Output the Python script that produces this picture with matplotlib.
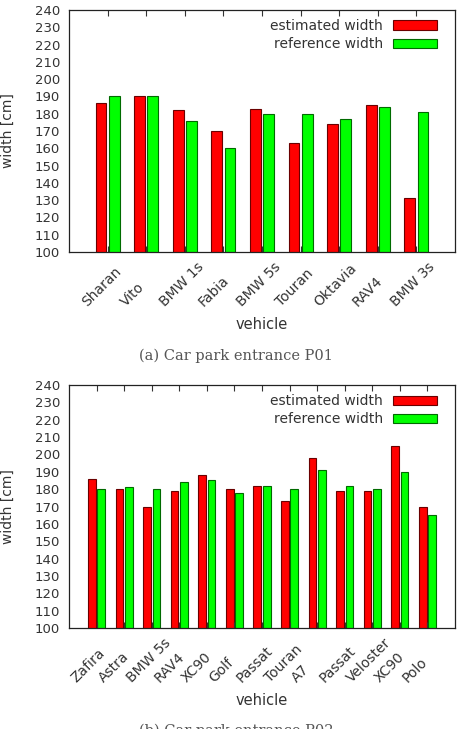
import matplotlib.pyplot as plt
import matplotlib.transforms as mtransforms
import numpy as np

# P01 data
cars_a = ["Sharan", "Vito", "BMW 1s", "Fabia", "BMW 5s", "Touran", "Oktavia", "RAV4", "BMW 3s"]
est_a = [186, 190, 182, 170, 183, 163, 174, 185, 131]
ref_a = [190, 190, 176, 160, 180, 180, 177, 184, 181]

# P02 data
cars_b = ["Zafira", "Astra", "BMW 5s", "RAV4", "XC90", "Golf", "Passat", "Touran", "A7",
          "Passat", "Veloster", "XC90", "Polo"]
est_b = [186, 180, 170, 179, 188, 180, 182, 173, 198, 179, 179, 205, 170]
ref_b = [180, 181, 180, 184, 185, 178, 182, 180, 191, 182, 180, 190, 165]

W, H = 461, 729
fig = plt.figure(figsize=(W / 100, H / 100), dpi=100)
plt.rcParams['font.family'] = 'DejaVu Sans'
txt = '#333333'


def panel(ax, cars, est, ref):
    x = np.arange(1, len(cars) + 1)
    bw = 0.28
    ax.bar(x - 0.03 - bw / 2, est, bw, color='#ff0000', edgecolor='#6a0000',
           linewidth=0.8, label='estimated width')
    ax.bar(x + 0.03 + bw / 2, ref, bw, color='#00ff00', edgecolor='#006a00',
           linewidth=0.8, label='reference width')
    ax.set_xlim(0, len(cars) + 1)
    ax.set_ylim(100, 240)
    ax.set_yticks(np.arange(100, 241, 10))
    ax.set_xticks(x)
    ax.tick_params(axis='x', direction='in', length=4.5, top=True, width=0.8,
                   color='#333333', pad=0)
    ax.tick_params(axis='y', length=0, labelsize=9.5, labelcolor=txt, pad=6.5)
    ax.set_xticklabels(cars, rotation=45, ha='left', va='baseline', rotation_mode='anchor',
                       fontsize=10, color=txt)
    # gnuplot style: labels start below-left of the tick
    off = mtransforms.ScaledTranslation(-20 / 100, -55 / 100, fig.dpi_scale_trans)
    for lab in ax.get_xticklabels():
        lab.set_transform(lab.get_transform() + off)
    ax.set_ylabel('width [cm]', fontsize=10, color=txt)
    ax.yaxis.set_label_coords(-54 / 386, 0.5)
    ax.set_xlabel('vehicle', fontsize=10.5, color=txt)
    ax.xaxis.set_label_coords(0.5, -65 / 242)
    for s in ax.spines.values():
        s.set_linewidth(0.9)
        s.set_color('#222222')
    leg = ax.legend(loc='upper right', bbox_to_anchor=(368 / 386, 1 - 9 / 242),
                    frameon=False, fontsize=10, markerfirst=False,
                    handlelength=3.2, handleheight=0.65, labelspacing=0.3,
                    borderaxespad=0, borderpad=0, handletextpad=0.7)
    for t in leg.get_texts():
        t.set_color(txt)


ax1 = fig.add_axes([69 / W, 1 - 252 / H, 386 / W, 242 / H])
panel(ax1, cars_a, est_a, ref_a)
ax2 = fig.add_axes([69 / W, 1 - 628 / H, 386 / W, 243 / H])
panel(ax2, cars_b, est_b, ref_b)

fig.text(236 / W, 1 - 356 / H, '(a) Car park entrance P01', ha='center', va='center',
         family='DejaVu Serif', fontsize=10.5, color='#555555')
fig.text(236 / W, 1 - 731 / H, '(b) Car park entrance P02', ha='center', va='center',
         family='DejaVu Serif', fontsize=10.5, color='#555555')

fig.savefig('out.png', dpi=100)
